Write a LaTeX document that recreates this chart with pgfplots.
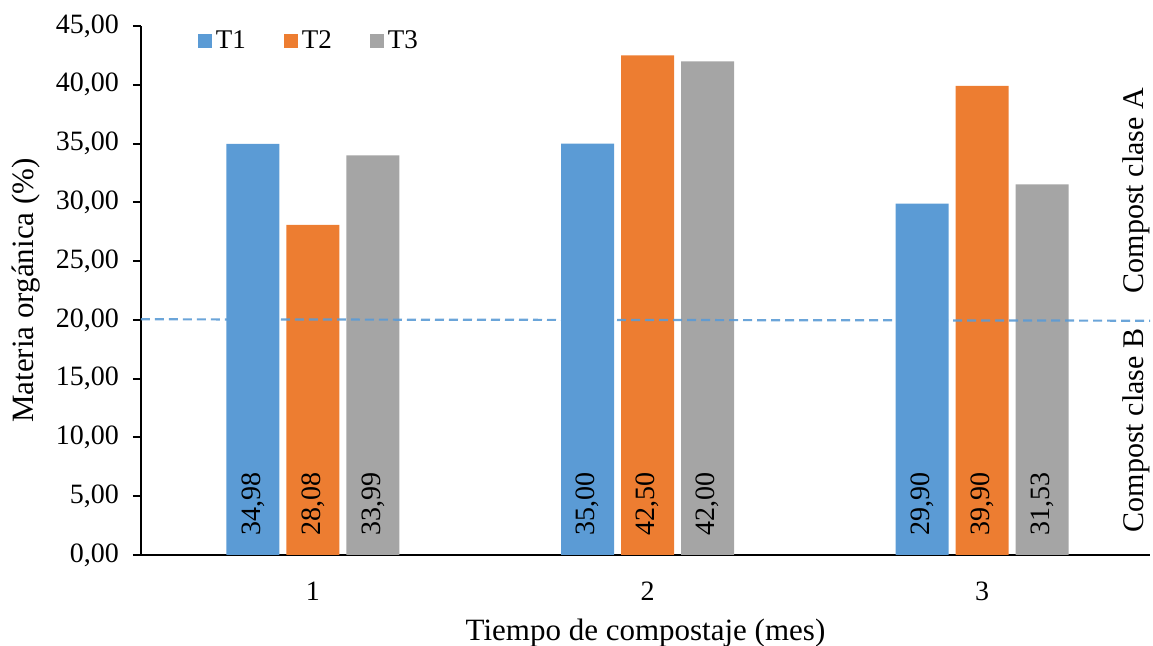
\documentclass[border=0pt]{standalone}
\usepackage{fontspec}
\setmainfont{Liberation Serif}
\usepackage{pgfplots}
\usepackage{pgfplotstable}
\pgfplotsset{compat=1.18}
\definecolor{cT1}{HTML}{5B9BD5}
\definecolor{cT2}{HTML}{ED7D31}
\definecolor{cT3}{HTML}{A5A5A5}
% lpos = height at which the value label starts
\pgfplotstableread{
x y lab lpos
1 34.98 34,98 1.6
2 35.00 35,00 1.6
3 29.90 29,90 1.6
}\tone
\pgfplotstableread{
x y lab lpos
1 28.08 28,08 1.6
2 42.50 42,50 1.6
3 39.90 39,90 1.6
}\ttwo
\pgfplotstableread{
x y lab lpos
1 33.99 33,99 1.6
2 42.00 42,00 1.6
3 31.53 31,53 1.6
}\tthree
\pgfplotsset{
  sqlegend/.style={legend image code/.code={\fill[##1,draw=none] (0pt,-3.5pt) rectangle (7pt,3.5pt);}},
  vallabels/.style={draw=none, fill=none, forget plot, bar shift=0pt, nodes near coords, point meta=explicit symbolic,
    every node near coord/.style={rotate=90, anchor=west, inner sep=0pt,
      font=\fontsize{14}{16}\selectfont, text=black}},
}
\begin{document}
\begin{tikzpicture}
\begin{axis}[
  at={(0,0)}, anchor=south west,
  scale only axis, width=504.5pt, height=264.5pt,
  xmin=0.486, xmax=3.502, ymin=0, ymax=45,
  axis x line*=bottom, axis y line*=left,
  axis line style={line width=1pt, black},
  xtick={1,2,3}, major x tick style={draw=none},
  ytick={0,5,...,45},
  tick align=outside, major tick length=4pt,
  y tick style={line width=1pt, black},
  /pgf/number format/assume math mode=true,
  yticklabel style={xshift=-3.5pt, /pgf/number format/.cd, fixed, fixed zerofill, precision=2, use comma},
  xticklabel style={yshift=-6pt},
  ticklabel style={font=\fontsize{14}{16}\selectfont},
  ylabel={Materia orgánica (\%)},
  xlabel={Tiempo de compostaje (mes)},
  xlabel style={yshift=-2pt},
  ylabel style={yshift=1pt},
  label style={font=\fontsize{15.5}{18}\selectfont},
  ybar, bar width=26.5pt,
  clip=false,
  legend style={draw=none, fill=none, legend columns=3, at={(0.05,1.007)}, anchor=north west,
    font=\fontsize{13.5}{16}\selectfont,
    /tikz/every even column/.append style={column sep=17pt}},
]
\addplot[fill=cT1, draw=none, bar shift=-30pt, sqlegend] table[x=x, y=y] {\tone};
\addlegendentry{T1}
\addplot[fill=cT2, draw=none, bar shift=0pt, sqlegend] table[x=x, y=y] {\ttwo};
\addlegendentry{T2}
\addplot[fill=cT3, draw=none, bar shift=30pt, sqlegend] table[x=x, y=y] {\tthree};
\addlegendentry{T3}
\addplot[vallabels] table[x expr=\thisrow{x}-0.1794, y=lpos, meta=lab] {\tone};
\addplot[vallabels] table[x=x, y=lpos, meta=lab] {\ttwo};
\addplot[vallabels] table[x expr=\thisrow{x}+0.1794, y=lpos, meta=lab] {\tthree};
\addplot[sharp plot, draw=cT1, draw opacity=0.9, line width=1.1pt, dash pattern=on 4.5pt off 2.5pt, forget plot] coordinates {(0.486,20.05) (3.502,19.93)};
\node[rotate=90, font=\fontsize{15}{18}\selectfont] at (axis cs:3.46,31.0) {Compost clase A};
\node[rotate=90, font=\fontsize{15}{18}\selectfont] at (axis cs:3.46,10.6) {Compost clase B};
\end{axis}
\pgfresetboundingbox
\useasboundingbox (-70.5pt,-45.5pt) rectangle (506pt,277.5pt);
\end{tikzpicture}
\end{document}
